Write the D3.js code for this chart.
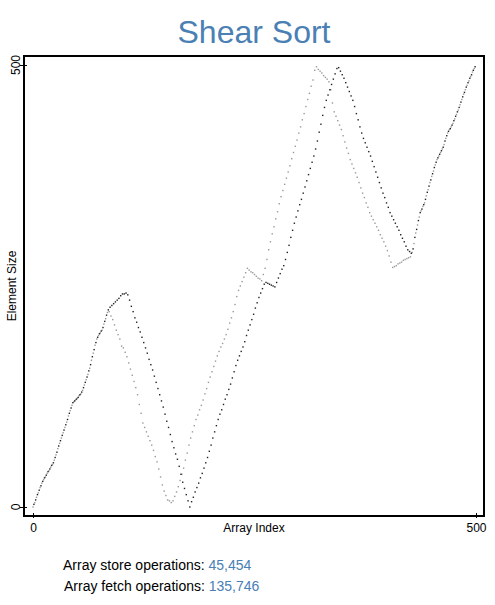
<!DOCTYPE html>
<html>
<head>
<meta charset="utf-8">
<script src="https://cdn.jsdelivr.net/npm/d3@7"></script>
<style>
  html, body { margin: 0; padding: 0; background: #fff; }
  svg { display: block; }
</style>
</head>
<body>
<div id="chart"></div>
<script>
// Shear Sort snapshot: value at each array index.
// Lighter dots sit on even indices, darker dots on odd indices.
var TITLE = 'Shear Sort';
var X_LABEL = 'Array Index';
var Y_LABEL = 'Element Size';
var X_TICKS = [0, 500];
var Y_TICKS = [0, 500];
var STATS = [
  { label: 'Array store operations: ', value: '45,454' },
  { label: 'Array fetch operations: ', value: '135,746' }
];

// even indices 0,2,...,498
var lightValues = [
  0, 5, 11, 16, 22, 27, 31, 34, 38, 41, 45, 48, 53, 59, 66, 72, 78, 84, 90, 96,
  103, 109, 115, 119, 121, 123, 126, 128, 132, 138, 144, 150, 157, 166, 174, 183, 190, 194, 197, 200,
  207, 213, 220, 221, 216, 212, 206, 200, 195, 190, 182, 180, 175, 170, 163, 156, 149, 142, 135, 127,
  116, 106, 95, 90, 85, 80, 75, 70, 64, 57, 51, 43, 34, 25, 18, 13, 8, 7, 5, 7,
  12, 17, 23, 30, 37, 44, 53, 61, 70, 78, 85, 92, 99, 104, 110, 115, 121, 128, 134, 141,
  147, 153, 159, 165, 171, 176, 181, 185, 190, 195, 201, 208, 214, 221, 229, 238, 245, 250, 255, 260,
  265, 270, 268, 266, 265, 263, 261, 259, 258, 256, 263, 270, 280, 291, 300, 309, 317, 326, 334, 343,
  351, 358, 365, 372, 379, 386, 394, 401, 408, 415, 423, 430, 438, 445, 453, 461, 468, 476, 483, 494,
  498, 495, 493, 491, 488, 486, 484, 481, 472, 457, 447, 442, 437, 432, 427, 420, 413, 406, 400, 393,
  388, 383, 378, 373, 367, 361, 355, 350, 344, 339, 333, 329, 325, 321, 317, 313, 308, 304, 300, 295,
  290, 284, 277, 271, 272, 273, 275, 276, 277, 279, 280, 281, 282, 283, 288, 298, 310, 319, 328, 335,
  340, 344, 352, 359, 367, 374, 380, 387, 393, 397, 401, 405, 410, 417, 423, 427, 430, 434, 439, 444,
  449, 455, 461, 467, 472, 477, 482, 487, 492, 496
];

// odd indices 1,3,...,499
var darkValues = [
  3, 8, 14, 19, 24, 29, 33, 36, 40, 43, 47, 50, 56, 62, 69, 75, 81, 87, 93, 99,
  106, 112, 118, 120, 122, 124, 127, 130, 135, 141, 147, 154, 161, 170, 178, 186, 192, 196, 199, 203,
  210, 217, 223, 226, 228, 230, 232, 234, 236, 239, 241, 241, 242, 240, 234, 227, 221, 214, 209, 203,
  198, 192, 186, 180, 174, 167, 161, 155, 148, 141, 134, 127, 120, 113, 105, 97, 90, 82, 74, 67,
  60, 54, 46, 37, 28, 21, 14, 7, 0, 6, 11, 17, 22, 27, 33, 38, 44, 50, 56, 63,
  70, 78, 85, 92, 99, 105, 110, 116, 122, 127, 133, 139, 146, 153, 160, 166, 171, 176, 181, 187,
  194, 200, 206, 212, 218, 225, 231, 237, 242, 247, 252, 254, 253, 252, 251, 250, 249, 254, 259, 264,
  269, 273, 280, 288, 296, 305, 313, 321, 328, 335, 342, 348, 355, 362, 369, 376, 383, 390, 397, 405,
  414, 424, 433, 443, 452, 460, 466, 472, 478, 484, 490, 496, 497, 493, 489, 485, 480, 475, 470, 465,
  460, 453, 445, 438, 430, 423, 417, 412, 407, 402, 397, 391, 385, 379, 373, 367, 361, 355, 350, 344,
  339, 333, 329, 325, 321, 317, 313, 308, 304, 300, 295, 291, 289, 287, 292, 305, 314, 324, 333, 337,
  342, 348, 356, 363, 370, 377, 384, 390, 395, 399, 403, 407, 414, 420, 425, 428, 432, 437, 442, 447,
  452, 458, 464, 469, 475, 480, 485, 489, 494, 498
];

var W = 495, H = 605;
var FONT = 'Liberation Sans, Arial, Helvetica, sans-serif';
var BLUE = '#4a80b4';

var frame = { left: 24, right: 484, top: 56, bottom: 516 };

var svg = d3.select('#chart').append('svg')
  .attr('width', W)
  .attr('height', H)
  .style('background', '#fff');

var x = d3.scaleLinear().domain([0, 500]).range([33, 476]);
var y = d3.scaleLinear().domain([0, 500]).range([507, 65]);

// ── Title ────────────────────────────────────────────
svg.append('text')
  .attr('x', 254)
  .attr('y', 43)
  .attr('text-anchor', 'middle')
  .attr('font-family', FONT)
  .attr('font-size', '32px')
  .attr('fill', BLUE)
  .text(TITLE);

// ── Points ───────────────────────────────────────────
var points = [];
lightValues.forEach(function(v, i) { points.push({ idx: i * 2, val: v, dark: false }); });
darkValues.forEach(function(v, i) { points.push({ idx: i * 2 + 1, val: v, dark: true }); });

svg.append('g').attr('class', 'points')
  .selectAll('rect')
  .data(points)
  .enter()
  .append('rect')
  .attr('x', function(d) { return x(d.idx) - 0.7; })
  .attr('y', function(d) { return y(d.val) - 0.7; })
  .attr('width', 1.4)
  .attr('height', 1.4)
  .attr('fill', function(d) { return d.dark ? '#222' : '#999'; });

// ── Frame ────────────────────────────────────────────
svg.append('rect')
  .attr('x', frame.left)
  .attr('y', frame.top)
  .attr('width', frame.right - frame.left)
  .attr('height', frame.bottom - frame.top)
  .attr('fill', 'none')
  .attr('stroke', '#000')
  .attr('stroke-width', 2);

// ── Axes ─────────────────────────────────────────────
var xAxis = d3.axisBottom(x).tickValues(X_TICKS).tickSize(5).tickPadding(5);
var xg = svg.append('g')
  .attr('transform', 'translate(0,' + (frame.bottom - 3) + ')')
  .call(xAxis);
xg.select('.domain').remove();
xg.selectAll('line').attr('stroke', '#000').attr('stroke-width', 1);
xg.selectAll('text')
  .attr('font-family', FONT)
  .attr('font-size', '12px')
  .attr('fill', '#000');

var yAxis = d3.axisLeft(y).tickValues(Y_TICKS).tickSize(7).tickFormat('');
var yg = svg.append('g')
  .attr('transform', 'translate(' + (frame.left + 3) + ',0)')
  .call(yAxis);
yg.select('.domain').remove();
yg.selectAll('line').attr('stroke', '#000').attr('stroke-width', 1);

// rotated y tick labels
yg.selectAll('.ylab')
  .data(Y_TICKS)
  .enter()
  .append('text')
  .attr('class', 'ylab')
  .attr('transform', function(d) { return 'translate(-7,' + y(d) + ') rotate(-90)'; })
  .attr('text-anchor', 'middle')
  .attr('font-family', FONT)
  .attr('font-size', '12px')
  .attr('fill', '#000')
  .text(function(d) { return d; });

svg.append('text')
  .attr('x', 254)
  .attr('y', 532)
  .attr('text-anchor', 'middle')
  .attr('font-family', FONT)
  .attr('font-size', '12px')
  .text(X_LABEL);

svg.append('text')
  .attr('transform', 'translate(16,286) rotate(-90)')
  .attr('text-anchor', 'middle')
  .attr('font-family', FONT)
  .attr('font-size', '12px')
  .text(Y_LABEL);

// ── Stats ────────────────────────────────────────────
var stat = svg.selectAll('.stat')
  .data(STATS)
  .enter()
  .append('text')
  .attr('class', 'stat')
  .attr('x', function(d, i) { return 63 + i; })
  .attr('y', function(d, i) { return 570 + i * 21; })
  .attr('font-family', FONT)
  .attr('font-size', '14px')
  .attr('fill', '#000');
stat.append('tspan').text(function(d) { return d.label; });
stat.append('tspan').attr('fill', BLUE).text(function(d) { return d.value; });
</script>
</body>
</html>
